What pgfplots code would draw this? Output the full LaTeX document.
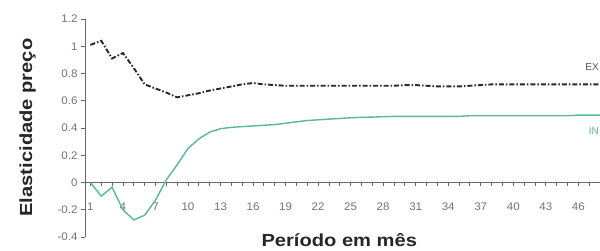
\documentclass[border=0pt]{standalone}
\usepackage{fontspec}
\setmainfont{Liberation Sans}
\newfontfamily\titlefont[FakeStretch=1.15]{Liberation Sans}
\newfontfamily\tickfont[FakeStretch=1.05]{Liberation Sans}
\usepackage{pgfplots}
\pgfplotsset{compat=1.18}
\definecolor{inteal}{RGB}{88,184,152}
\definecolor{exblack}{RGB}{40,40,40}
\definecolor{axgray}{RGB}{105,105,105}
\definecolor{tickgray}{RGB}{115,115,115}
\pgfplotstableread{
p v
1 1.01
2 1.04
3 0.91
4 0.95
5 0.84
6 0.72
7 0.69
8 0.66
9 0.625
10 0.64
11 0.655
12 0.675
13 0.69
14 0.705
15 0.72
16 0.73
17 0.72
18 0.715
19 0.71
20 0.71
21 0.71
22 0.71
23 0.71
24 0.71
25 0.71
26 0.71
27 0.71
28 0.71
29 0.71
30 0.715
31 0.715
32 0.71
33 0.705
34 0.705
35 0.705
36 0.71
37 0.715
38 0.72
39 0.72
40 0.72
41 0.72
42 0.72
43 0.72
44 0.72
45 0.72
46 0.72
47 0.72
48 0.72
}\exdata
\pgfplotstableread{
p v
1 0
2 -0.10
3 -0.035
4 -0.20
5 -0.275
6 -0.24
7 -0.13
8 0.02
9 0.13
10 0.25
11 0.32
12 0.37
13 0.395
14 0.405
15 0.41
16 0.415
17 0.42
18 0.425
19 0.435
20 0.445
21 0.455
22 0.46
23 0.465
24 0.47
25 0.475
26 0.478
27 0.48
28 0.483
29 0.485
30 0.485
31 0.485
32 0.485
33 0.485
34 0.485
35 0.485
36 0.49
37 0.49
38 0.49
39 0.49
40 0.49
41 0.49
42 0.49
43 0.49
44 0.49
45 0.49
46 0.495
47 0.495
48 0.495
}\indata
\begin{document}
\begin{tikzpicture}[x=1pt,y=1pt]
\useasboundingbox (0,0) rectangle (600,251);
\begin{axis}[
  at={(85pt,14pt)}, anchor=south west,
  scale only axis, width=515pt, height=218pt,
  xmin=0.5, xmax=48, ymin=-0.4, ymax=1.2,
  axis x line=middle, axis y line=left,
  axis line style={-, axgray, line width=1pt},
  xtick={1,4,...,46},
  minor xtick={1,...,48},
  ytick={-0.4,-0.2,0,0.2,0.4,0.6,0.8,1,1.2},
  tick align=outside,
  major tick length=4pt, minor tick length=4pt,
  tick style={axgray, line width=0.8pt},
  /pgf/number format/assume math mode=true,
  ticklabel style={font=\tickfont\fontsize{11}{13}\selectfont, text=tickgray},
  xticklabel style={yshift=-13pt},
  clip=false,
]
\addplot[exblack, line width=1.9pt, dash pattern=on 5pt off 2pt on 1.5pt off 2pt] table[x=p,y=v] {\exdata};
\addplot[inteal, line width=1.4pt] table[x=p,y=v] {\indata};
\node[anchor=east, inner sep=1pt, text=exblack!80, font=\fontsize{10}{12}\selectfont] at (axis cs:48,0.845) {EX};
\node[anchor=east, inner sep=1pt, text=inteal, font=\fontsize{10}{12}\selectfont] at (axis cs:48,0.375) {IN};
\end{axis}
\node[anchor=base west, font=\titlefont\bfseries\fontsize{17.5}{20}\selectfont, text=black!85] at (258,4) {Período em mês};
\node[anchor=base west, rotate=90, font=\titlefont\bfseries\fontsize{17.5}{20}\selectfont, text=black!85] at (32,31) {Elasticidade preço};
\end{tikzpicture}
\end{document}
